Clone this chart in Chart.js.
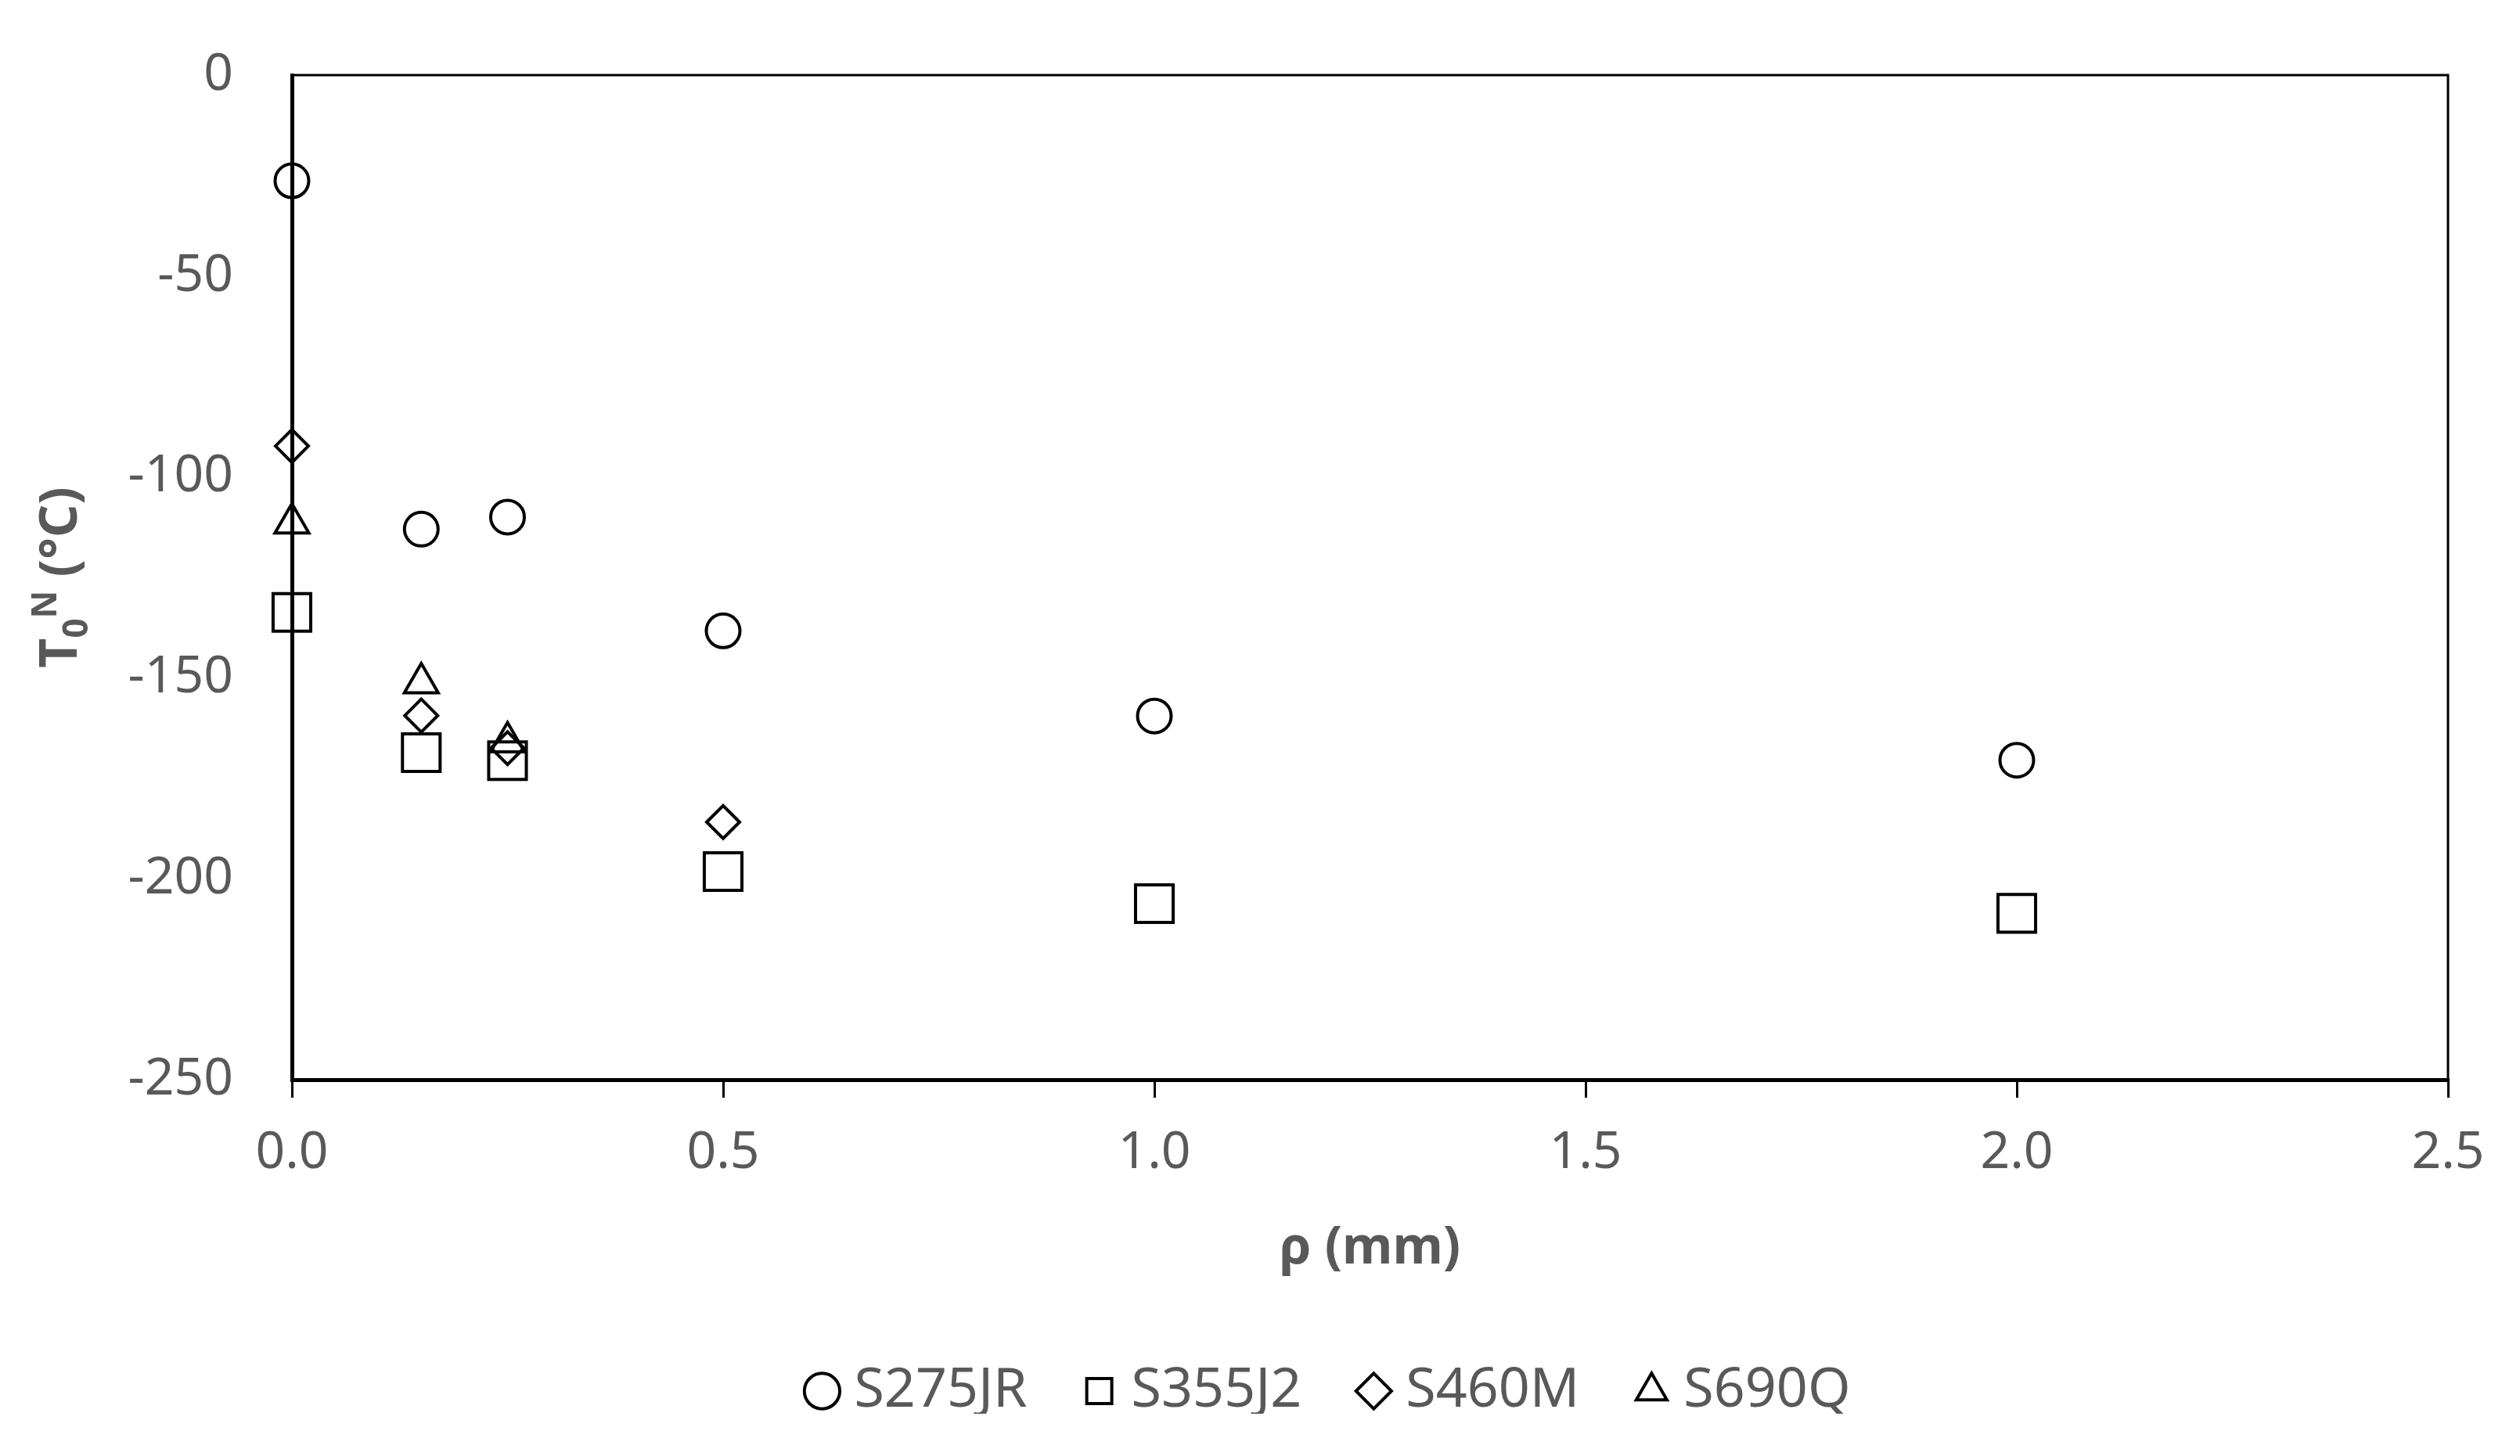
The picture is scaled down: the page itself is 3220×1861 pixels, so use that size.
<!DOCTYPE html>
<html>
<head>
<meta charset="utf-8">
<script src="https://cdn.jsdelivr.net/npm/chart.js@4.4.1/dist/chart.umd.min.js"></script>
<style>
  html, body { margin: 0; padding: 0; background: #fff; }
</style>
</head>
<body>
<canvas id="chartCanvas" width="3220" height="1861"></canvas>
<script>
const chartCanvas = document.getElementById("chartCanvas");

// values
const seriesNames = ['S275JR', 'S355J2', 'S460M', 'S690Q'];
const rhoS275 = [0, 0.15, 0.25, 0.5, 1.0, 2.0];
const tempS275 = [-26.3, -113, -110, -138.3, -159.5, -170.5];
const rhoS355 = [0, 0.15, 0.25, 0.5, 1.0, 2.0];
const tempS355 = [-133.7, -168.6, -170.6, -198.2, -206.2, -208.6];
const rhoS460 = [0, 0.15, 0.25, 0.5];
const tempS460 = [-92.3, -159.4, -167.5, -185.9];
const rhoS690 = [0, 0.15, 0.25];
const tempS690 = [-111.5, -151.3, -166];
const xTicks = [0, 0.5, 1.0, 1.5, 2.0, 2.5];
const yTicks = [0, -50, -100, -150, -200, -250];

const textGrey = '#595959';
const fontFamily = '"Noto Sans", "Open Sans", sans-serif';

function toPoints(xs, ys) {
    return xs.map((x, i) => ({ x: x, y: ys[i] }));
}

function series(label, xs, ys, style, radius) {
    return {
        label: label,
        data: toPoints(xs, ys),
        pointStyle: style,
        pointRadius: radius,
        pointHoverRadius: radius,
        pointBorderWidth: 4,
        borderWidth: 4,
        borderColor: '#000',
        backgroundColor: 'rgba(0,0,0,0)',
        pointBackgroundColor: 'rgba(0,0,0,0)',
        showLine: false,
        clip: false
    };
}

// top and right edges of the plot box
const frameBox = {
    id: 'frameBox',
    beforeDatasetsDraw(chart) {
        const ctx = chart.ctx;
        const a = chart.chartArea;
        ctx.save();
        ctx.strokeStyle = '#000';
        ctx.lineWidth = 3;
        ctx.beginPath();
        ctx.moveTo(a.left, a.top);
        ctx.lineTo(a.right, a.top);
        ctx.lineTo(a.right, a.bottom);
        ctx.stroke();
        ctx.restore();
    }
};

// legend in the reference sits a bit left of the plot centre
const legendShift = {
    id: 'legendShift',
    afterLayout(chart) {
        chart.legend.left -= 46;
        chart.legend.right -= 46;
    }
};

// y title with subscript / superscript: T0N (°C)
const yAxisTitle = {
    id: 'yAxisTitle',
    afterDraw(chart) {
        const ctx = chart.ctx;
        const a = chart.chartArea;
        const big = 'bold 66px ' + fontFamily;
        const small = 'bold 44px ' + fontFamily;
        const parts = [
            ['T', big, 0],
            ['0', small, 14],
            ['N', small, -26],
            [' (°C)', big, 0]
        ];
        ctx.save();
        let total = 0;
        parts.forEach(p => { ctx.font = p[1]; total += ctx.measureText(p[0]).width; });
        ctx.translate(74, (a.top + a.bottom) / 2);
        ctx.rotate(-Math.PI / 2);
        ctx.fillStyle = textGrey;
        ctx.textBaseline = 'alphabetic';
        ctx.textAlign = 'left';
        let x = -total / 2;
        parts.forEach(p => {
            ctx.font = p[1];
            ctx.fillText(p[0], x, 24 + p[2]);
            x += ctx.measureText(p[0]).width;
        });
        ctx.restore();
    }
};

const chart = new Chart(chartCanvas, {
    type: 'scatter',
    data: {
        datasets: [
            series(seriesNames[0], rhoS275, tempS275, 'circle', 21.5),
            series(seriesNames[1], rhoS355, tempS355, 'rect', 34),
            series(seriesNames[2], rhoS460, tempS460, 'rectRot', 21),
            series(seriesNames[3], rhoS690, tempS690, 'triangle', 25)
        ]
    },
    options: {
        responsive: false,
        animation: false,
        layout: {
            padding: { left: 0, right: 92, top: 96, bottom: 54 }
        },
        plugins: {
            legend: {
                position: 'bottom',
                fullSize: false,
                maxHeight: 150,
                labels: {
                    usePointStyle: true,
                    boxHeight: 32,
                    boxWidth: 12,
                    padding: 86,
                    color: textGrey,
                    font: { family: fontFamily, size: 70 }
                }
            },
            tooltip: { enabled: false }
        },
        scales: {
            x: {
                type: 'linear',
                min: 0,
                max: 2.5,
                afterBuildTicks: scale => { scale.ticks = xTicks.map(v => ({ value: v })); },
                afterFit: scale => { scale.height = 277; },
                ticks: {
                    padding: 32,
                    color: textGrey,
                    font: { family: fontFamily, size: 66 },
                    callback: v => Number(v).toFixed(1)
                },
                grid: {
                    drawOnChartArea: false,
                    drawTicks: true,
                    tickLength: 23,
                    lineWidth: 3,
                    color: '#000'
                },
                border: { display: true, color: '#000', width: 5 },
                title: {
                    display: true,
                    text: 'ρ (mm)',
                    color: textGrey,
                    font: { family: fontFamily, size: 66, weight: 'bold' },
                    padding: { top: 0, bottom: 21 }
                }
            },
            y: {
                min: -250,
                max: 0,
                afterBuildTicks: scale => { scale.ticks = yTicks.map(v => ({ value: v })); },
                afterFit: scale => {
                    scale.width = 373;
                    scale.paddingTop = 0;
                    scale.paddingBottom = 0;
                },
                ticks: {
                    padding: 75,
                    color: textGrey,
                    font: { family: fontFamily, size: 66 }
                },
                grid: { display: false, drawTicks: false },
                border: { display: true, color: '#000', width: 5 }
            }
        }
    },
    plugins: [frameBox, legendShift, yAxisTitle]
});
</script>
</body>
</html>
